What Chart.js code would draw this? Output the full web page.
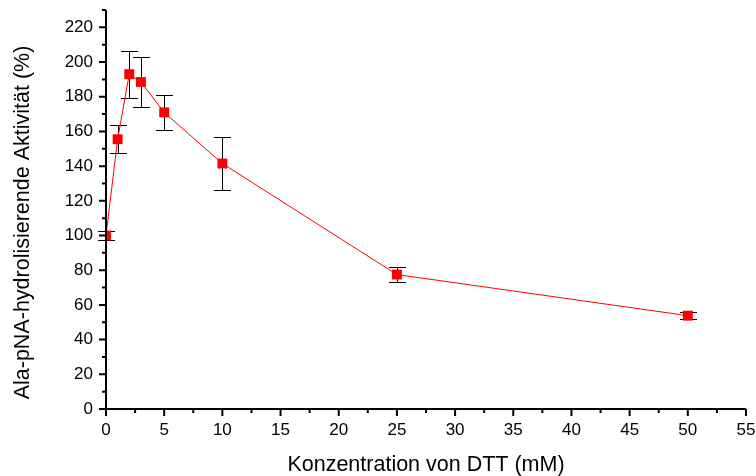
<!DOCTYPE html>
<html lang="de">
<head>
    <meta charset="UTF-8">
    <title>Ala-pNA-hydrolisierende Aktivität</title>
    <style>
        html, body { margin: 0; padding: 0; background: #fff; }
        .chart-container { width: 756px; height: 476px; }
    </style>
    <script src="https://cdn.jsdelivr.net/npm/chart.js"></script>
</head>
<body>
    <div class="chart-container">
        <canvas id="dttChart"></canvas>
    </div>
    <script>
        // DTT concentration (mM), activity (%) and error (±)
        const concentrations = [0, 1, 2, 3, 5, 10, 25, 50];
        const activity = [100, 155.5, 193, 188.5, 171, 141.5, 77.5, 53.8];
        const errors = [2.5, 8, 13.5, 14.5, 10, 15.5, 4.5, 2.2];

        const xTicks = [0, 5, 10, 15, 20, 25, 30, 35, 40, 45, 50, 55];
        const yTicks = [0, 20, 40, 60, 80, 100, 120, 140, 160, 180, 200, 220];

        const xTitle = 'Konzentration von DTT (mM)';
        const yTitle = 'Ala-pNA-hydrolisierende Aktivität (%)';

        const fontFamily = "'Liberation Sans', Arial, sans-serif";

        // error bars, axis lines, tick marks and axis titles
        const extrasPlugin = {
            id: 'extras',
            beforeDatasetsDraw(chart) {
                const ctx = chart.ctx;
                const xs = chart.scales.x, ys = chart.scales.y;
                ctx.save();
                ctx.strokeStyle = '#000';
                ctx.lineWidth = 1;
                concentrations.forEach((c, i) => {
                    const px = Math.round(xs.getPixelForValue(c)) + 0.5;
                    const top = Math.round(ys.getPixelForValue(activity[i] + errors[i])) + 0.5;
                    const bot = Math.round(ys.getPixelForValue(activity[i] - errors[i])) + 0.5;
                    ctx.beginPath();
                    ctx.moveTo(px, top); ctx.lineTo(px, bot);
                    ctx.moveTo(px - 8.5, top); ctx.lineTo(px + 8.5, top);
                    ctx.moveTo(px - 8.5, bot); ctx.lineTo(px + 8.5, bot);
                    ctx.stroke();
                });
                ctx.restore();
            },
            afterDraw(chart) {
                const ctx = chart.ctx;
                const xs = chart.scales.x, ys = chart.scales.y;
                const area = chart.chartArea;
                ctx.save();
                ctx.strokeStyle = '#000';
                ctx.lineWidth = 2;
                ctx.beginPath();
                ctx.moveTo(area.left, area.top);
                ctx.lineTo(area.left, area.bottom);
                ctx.lineTo(area.right, area.bottom);
                ctx.stroke();
                ctx.beginPath();
                for (let v = 0; v <= 55; v += 2.5) {
                    const px = xs.getPixelForValue(v);
                    const len = v % 5 === 0 ? 7 : 4;
                    ctx.moveTo(px, area.bottom); ctx.lineTo(px, area.bottom + len);
                }
                for (let v = 0; v <= 230; v += 10) {
                    const py = ys.getPixelForValue(v);
                    const len = v % 20 === 0 ? 7 : 4;
                    ctx.moveTo(area.left, py); ctx.lineTo(area.left - len, py);
                }
                ctx.stroke();

                ctx.fillStyle = '#000';
                ctx.font = '21.5px ' + fontFamily;
                ctx.textAlign = 'center';
                ctx.textBaseline = 'alphabetic';
                ctx.fillText(xTitle, (area.left + area.right) / 2, 471);
                ctx.translate(28.5, (area.top + area.bottom) / 2 + 13);
                ctx.rotate(-Math.PI / 2);
                ctx.fillText(yTitle, 0, 0);
                ctx.restore();
            }
        };

        new Chart(document.getElementById('dttChart'), {
            type: 'line',
            data: {
                datasets: [{
                    data: concentrations.map((c, i) => ({ x: c, y: activity[i] })),
                    borderColor: '#ff0000',
                    borderWidth: 1,
                    backgroundColor: '#ff0000',
                    pointStyle: 'rect',
                    pointRadius: 7,
                    pointBorderWidth: 0,
                    tension: 0
                }]
            },
            options: {
                responsive: true,
                maintainAspectRatio: false,
                animation: false,
                layout: { padding: 0 },
                plugins: { legend: { display: false }, tooltip: { enabled: false } },
                scales: {
                    x: {
                        type: 'linear',
                        min: 0,
                        max: 55,
                        afterBuildTicks: scale => { scale.ticks = xTicks.map(v => ({ value: v })); },
                        afterFit: scale => {
                            scale.height = 67;
                            scale.paddingLeft = 0;
                            scale.paddingRight = 10;
                        },
                        grid: { display: false },
                        border: { display: false },
                        ticks: { color: '#000', padding: 3, font: { family: fontFamily, size: 17 } }
                    },
                    y: {
                        min: 0,
                        max: 230,
                        afterBuildTicks: scale => { scale.ticks = yTicks.map(v => ({ value: v })); },
                        afterFit: scale => {
                            scale.width = 106;
                            scale.paddingTop = 10;
                            scale.paddingBottom = 0;
                        },
                        grid: { display: false },
                        border: { display: false },
                        ticks: { color: '#000', padding: 5, font: { family: fontFamily, size: 17 } }
                    }
                }
            },
            plugins: [extrasPlugin]
        });
    </script>
</body>
</html>
